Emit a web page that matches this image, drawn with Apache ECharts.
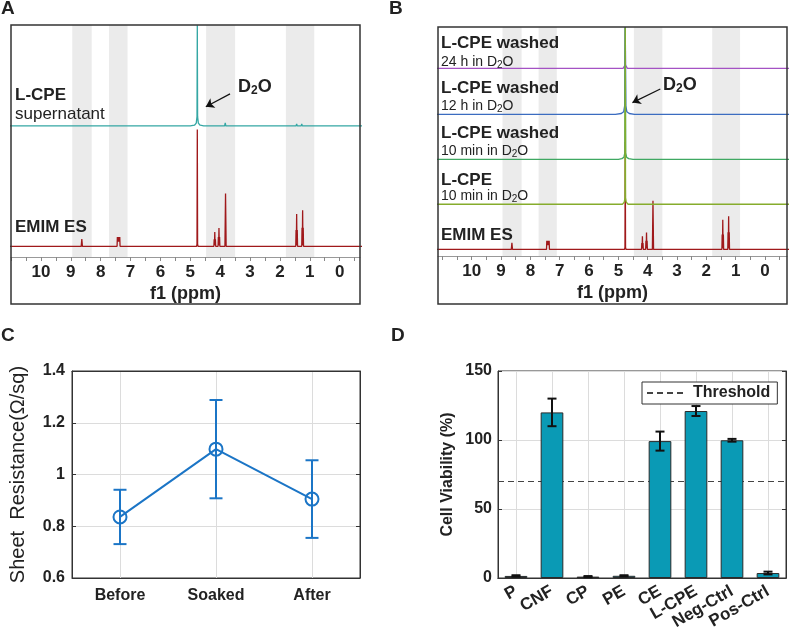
<!DOCTYPE html>
<html>
<head>
<meta charset="utf-8">
<script src="https://cdn.jsdelivr.net/npm/echarts@6/dist/echarts.min.js"></script>
<style>
html, body { margin: 0; padding: 0; background: #fff; }
#main { width: 791px; height: 635px; }
</style>
</head>
<body>
<div id="main"></div>
<script>
// ---------- NMR panels (A, B) ----------
var ppmLabels = [0, 1, 2, 3, 4, 5, 6, 7, 8, 9, 10];
var ppmTicks = [-0.5, 0, 0.5, 1, 1.5, 2, 2.5, 3, 3.5, 4, 4.5, 5, 5.5, 6, 6.5, 7, 7.5, 8, 8.5, 9, 9.5, 10, 10.5, 11];
var grayBands = [[8.95, 8.3], [7.72, 7.1], [4.47, 3.5], [1.8, 0.85]];

// [ppm, intensity above own baseline]
var emimSpec = [
  [11.3, 0], [8.65, 0], [8.63, 3.1], [8.61, 0],
  [7.45, 0], [7.44, 4.0], [7.42, 2], [7.40, 4.0], [7.38, 2], [7.36, 4.0], [7.35, 0],
  [4.79, 0], [4.775, 1], [4.765, 50.4], [4.755, 1], [4.74, 0],
  [4.21, 0], [4.20, 3], [4.19, 0.5], [4.18, 6.2], [4.17, 0.5], [4.16, 3], [4.15, 0],
  [4.07, 0], [4.06, 4], [4.05, 0.5], [4.04, 7.9], [4.03, 0.5], [4.02, 4], [4.01, 0],
  [3.84, 0], [3.82, 22.8], [3.80, 0],
  [1.47, 0], [1.46, 7], [1.45, 0.5], [1.44, 13.9], [1.43, 0.5], [1.42, 7], [1.41, 0],
  [1.27, 0], [1.26, 8], [1.25, 0.5], [1.24, 15.6], [1.23, 0.5], [1.22, 8], [1.21, 0],
  [-1, 0]
];
var supernatantSpec = [
  [11.3, 0], [5.0, 0], [4.86, 0.3], [4.80, 1.2], [4.775, 4], [4.765, 43.4], [4.755, 4], [4.73, 1.2], [4.67, 0.3], [4.55, 0],
  [4.12, 0], [4.10, 0.5], [4.08, 0],
  [3.85, 0], [3.83, 1.3], [3.81, 0],
  [1.46, 0], [1.44, 0.9], [1.42, 0],
  [1.29, 0], [1.27, 0.9], [1.25, 0],
  [-1, 0]
];
var cpe10Spec = [
  [11.3, 0], [4.86, 0], [4.80, 1], [4.775, 3], [4.765, 83], [4.755, 3], [4.73, 1], [4.67, 0],
  [4.19, 0], [4.17, 0.4], [4.15, 0], [4.05, 0], [4.03, 0.4], [4.01, 0],
  [1.45, 0], [1.43, 0.9], [1.41, 0], [1.25, 0], [1.23, 0.9], [1.21, 0],
  [-1, 0]
];
var washed10Spec = [
  [11.3, 0], [5.0, 0], [4.88, 0.3], [4.81, 1], [4.78, 3], [4.765, 62], [4.75, 3], [4.72, 1], [4.65, 0.3], [4.5, 0],
  [-1, 0]
];
var washed12Spec = [
  [11.3, 0], [5.1, 0], [4.9, 0.4], [4.82, 1.2], [4.785, 4], [4.765, 40.9], [4.745, 4], [4.71, 1.2], [4.63, 0.4], [4.45, 0],
  [-1, 0]
];
var washed24Spec = [
  [11.3, 0], [4.84, 0], [4.79, 0.6], [4.772, 1.5], [4.765, 19.3], [4.758, 1.5], [4.74, 0.6], [4.69, 0],
  [-1, 0]
];
var baseA = { supernatant: 56.5, emim: 4.6 };
var baseB = { emim: 3.1, cpe10: 24.3, washed10: 45.4, washed12: 66.5, washed24: 88.1 };

// ---------- panel C ----------
var stages = ['Before', 'Soaked', 'After'];
var sheetRes = [0.836, 1.098, 0.905];
var sheetErr = [0.105, 0.19, 0.15];

// ---------- panel D ----------
var samples = ['P', 'CNF', 'CP', 'PE', 'CE', 'L-CPE', 'Neg-Ctrl', 'Pos-Ctrl'];
var viability = [1.5, 120, 1.0, 1.6, 99.2, 121, 99.8, 3.6];
var viabilityErr = [0.5, 10, 0.4, 0.4, 6.9, 3.6, 1.0, 1.0];
var threshold = 70;

var FONT = '"Liberation Sans", Arial, Helvetica, sans-serif';

function shift(spec, b) {
  return spec.map(function (p) { return [p[0], p[1] + b]; });
}

function specSeries(grid, name, spec, base, color, z) {
  return {
    name: name, type: 'line', xAxisIndex: grid, yAxisIndex: grid,
    data: shift(spec, base), showSymbol: false, symbol: 'none',
    lineStyle: { color: color, width: 1.3 }, clip: true, z: z, silent: true
  };
}

function bandSeries(grid) {
  return {
    type: 'line', xAxisIndex: grid, yAxisIndex: grid, data: [], z: 1, silent: true,
    markArea: {
      silent: true, z: 1, itemStyle: { color: '#ebebeb' },
      data: grayBands.map(function (b) { return [{ xAxis: b[0] }, { xAxis: b[1] }]; })
    }
  };
}

function arrowSeries(grid, from, to) {
  return {
    type: 'line', xAxisIndex: grid, yAxisIndex: grid, data: [], z: 10, silent: true,
    markLine: {
      silent: true, symbol: ['none', 'arrow'], symbolSize: 8, z: 10,
      lineStyle: { color: '#111', width: 1.2, type: 'solid' },
      label: { show: false },
      data: [[{ coord: from }, { coord: to }]]
    }
  };
}

// error bar drawn as filled rects (stem + two caps)
function errRender(capHalf, color, width) {
  return function (params, api) {
    var i = api.value(0);
    var lo = api.coord([i, api.value(1)]);
    var hi = api.coord([i, api.value(2)]);
    var h = width / 2;
    function box(x, y, w, ht) {
      return { type: 'rect', shape: { x: x, y: y, width: w, height: ht }, style: { fill: color, stroke: null } };
    }
    return {
      type: 'group',
      children: [
        box(lo[0] - h, hi[1], width, lo[1] - hi[1]),
        box(lo[0] - capHalf, lo[1] - h, capHalf * 2, width),
        box(hi[0] - capHalf, hi[1] - h, capHalf * 2, width)
      ]
    };
  };
}

function vGridSeries(grid, cats) {
  return {
    type: 'line', xAxisIndex: grid, yAxisIndex: grid, data: [], z: 0, silent: true,
    markLine: {
      silent: true, symbol: 'none', z: 0, label: { show: false },
      lineStyle: { color: '#dcdcdc', width: 1, type: 'solid' },
      data: cats.map(function (c) { return { xAxis: c }; })
    }
  };
}

function nmrX(grid, min, max) {
  return {
    gridIndex: grid, type: 'value', inverse: true, min: min, max: max,
    axisLine: { show: true, onZero: false, lineStyle: { color: '#999', width: 1 } },
    axisTick: { show: true, customValues: ppmTicks, length: 4, lineStyle: { color: '#888' } },
    axisLabel: { customValues: ppmLabels, fontFamily: FONT, fontWeight: 'bold', fontSize: 17, color: '#222', margin: 7 },
    splitLine: { show: false },
    name: 'f1 (ppm)', nameLocation: 'middle', nameGap: 28,
    nameTextStyle: { fontFamily: FONT, fontWeight: 'bold', fontSize: 18, color: '#222' }
  };
}

var tickLbl = { fontFamily: FONT, fontWeight: 'bold', fontSize: 16, color: '#222' };

function txt(x, y, text, size, weight, rich) {
  var st = { text: text, x: x, y: y, fill: '#222', fontFamily: FONT, fontSize: size, fontWeight: weight, verticalAlign: 'middle' };
  if (rich) st.rich = rich;
  return { type: 'text', style: st, z: 50 };
}
var subRich = { s: { fontSize: 10, fontFamily: FONT, fill: '#222', padding: [7, 0, 0, 0] } };
var d2oRich = {
  a: { fontSize: 18, fontWeight: 'bold', fontFamily: FONT, fill: '#222' },
  s: { fontSize: 12, fontWeight: 'bold', fontFamily: FONT, fill: '#222', padding: [8, 0, 0, 0] }
};

var chart = echarts.init(document.getElementById('main'));
var option = {
  animation: false,
  textStyle: { fontFamily: FONT },
  grid: [
    { left: 11, top: 25, width: 349, height: 232 },
    { left: 438, top: 27, width: 349, height: 229 },
    { left: 72, top: 371, width: 288, height: 207, show: true, borderColor: '#333', borderWidth: 1 },
    { left: 498, top: 371, width: 288, height: 207, show: true, borderColor: '#333', borderWidth: 1 }
  ],
  xAxis: [
    nmrX(0, -0.68, 11.0),
    nmrX(1, -0.75, 11.15),
    {
      gridIndex: 2, type: 'category', data: stages, boundaryGap: true,
      axisLine: { lineStyle: { color: '#333' } },
      axisTick: { inside: true, alignWithLabel: true, length: 4, lineStyle: { color: '#333' } },
      axisLabel: Object.assign({ margin: 10 }, tickLbl), splitLine: { show: false }
    },
    {
      gridIndex: 3, type: 'category', data: samples, boundaryGap: true,
      axisLine: { lineStyle: { color: '#333' } },
      axisTick: { inside: true, alignWithLabel: true, length: 4, lineStyle: { color: '#333' } },
      axisLabel: Object.assign({}, tickLbl, { margin: 12, rotate: 30, interval: 0, fontSize: 17 }), splitLine: { show: false }
    },
    {
      gridIndex: 2, type: 'category', data: stages, position: 'top',
      axisLine: { lineStyle: { color: '#333' } }, axisLabel: { show: false },
      axisTick: { inside: true, alignWithLabel: true, length: 4, lineStyle: { color: '#333' } }
    },
    {
      gridIndex: 3, type: 'category', data: samples, position: 'top',
      axisLine: { lineStyle: { color: '#333' } }, axisLabel: { show: false },
      axisTick: { inside: true, alignWithLabel: true, length: 4, lineStyle: { color: '#333' } }
    }
  ],
  yAxis: [
    { gridIndex: 0, type: 'value', min: 0, max: 100, show: false },
    { gridIndex: 1, type: 'value', min: 0, max: 107.5, show: false },
    {
      gridIndex: 2, type: 'value', min: 0.6, max: 1.4, interval: 0.2,
      axisLine: { show: true, lineStyle: { color: '#333' } },
      axisTick: { show: true, inside: true, length: 4, lineStyle: { color: '#333' } },
      axisLabel: Object.assign({ margin: 7 }, tickLbl),
      splitLine: { lineStyle: { color: '#dcdcdc' } },
      name: 'Sheet  Resistance(\u03A9/sq)', nameLocation: 'middle', nameGap: 44,
      nameTextStyle: { fontFamily: FONT, fontSize: 20, color: '#222' }
    },
    {
      gridIndex: 3, type: 'value', min: 0, max: 150, interval: 50,
      axisLine: { show: true, lineStyle: { color: '#333' } },
      axisTick: { show: true, inside: true, length: 4, lineStyle: { color: '#333' } },
      axisLabel: Object.assign({ margin: 6 }, tickLbl),
      splitLine: { lineStyle: { color: '#dcdcdc' } },
      name: 'Cell Viability (%)', nameLocation: 'middle', nameGap: 42,
      nameTextStyle: { fontFamily: FONT, fontSize: 16, fontWeight: 'bold', color: '#222' }
    },
    {
      gridIndex: 2, type: 'value', min: 0.6, max: 1.4, interval: 0.2, position: 'right',
      axisLine: { show: true, lineStyle: { color: '#333' } }, axisLabel: { show: false }, splitLine: { show: false },
      axisTick: { show: true, inside: true, length: 4, lineStyle: { color: '#333' } }
    },
    {
      gridIndex: 3, type: 'value', min: 0, max: 150, interval: 50, position: 'right',
      axisLine: { show: true, lineStyle: { color: '#333' } }, axisLabel: { show: false }, splitLine: { show: false },
      axisTick: { show: true, inside: true, length: 4, lineStyle: { color: '#333' } }
    }
  ],
  legend: {
    data: [{ name: 'Threshold', icon: 'path://M0,0h6v2h-6zM10,0h6v2h-6zM20,0h6v2h-6zM30,0h6v2h-6z' }],
    left: 642, top: 382, padding: [3, 7, 3, 5], itemWidth: 42, itemHeight: 2,
    borderColor: '#333', borderWidth: 1, backgroundColor: '#fff',
    textStyle: { fontFamily: FONT, fontWeight: 'bold', fontSize: 16, color: '#222', padding: [0, 0, 0, 2] }
  },
  series: [
    // A
    bandSeries(0),
    specSeries(0, 'EMIM ES A', emimSpec, baseA.emim, '#a0191b', 3),
    specSeries(0, 'L-CPE supernatant', supernatantSpec, baseA.supernatant, '#35a7a4', 4),
    arrowSeries(0, [3.67, 70.3], [4.48, 64.8]),
    // B
    bandSeries(1),
    specSeries(1, 'EMIM ES B', emimSpec, baseB.emim, '#a0191b', 3),
    specSeries(1, 'washed 24 h', washed24Spec, baseB.washed24, '#a452c4', 4),
    specSeries(1, 'washed 12 h', washed12Spec, baseB.washed12, '#3b6cc0', 5),
    specSeries(1, 'washed 10 min', washed10Spec, baseB.washed10, '#3fa862', 6),
    specSeries(1, 'L-CPE 10 min', cpe10Spec, baseB.cpe10, '#86ac2c', 7),
    arrowSeries(1, [3.57, 78.4], [4.52, 72.0]),
    // C
    vGridSeries(2, stages),
    {
      type: 'custom', xAxisIndex: 2, yAxisIndex: 2, z: 3, silent: true,
      renderItem: errRender(6.5, '#1b75c6', 2),
      encode: { x: 0, y: [1, 2] },
      data: stages.map(function (s, i) { return [i, sheetRes[i] - sheetErr[i], sheetRes[i] + sheetErr[i]]; })
    },
    {
      type: 'line', xAxisIndex: 2, yAxisIndex: 2, data: sheetRes, z: 4,
      symbol: 'circle', symbolSize: 13,
      lineStyle: { color: '#1b75c6', width: 2 },
      itemStyle: { color: 'rgba(0,0,0,0)', borderColor: '#1b75c6', borderWidth: 2 }
    },
    // D
    vGridSeries(3, samples),
    {
      name: 'Threshold', type: 'line', xAxisIndex: 3, yAxisIndex: 3, data: [], z: 2,
      symbol: 'none', lineStyle: { color: '#444', width: 1.2, type: [6, 4] },
      itemStyle: { color: '#444' },
      markLine: {
        silent: true, symbol: 'none', z: 2, label: { show: false },
        lineStyle: { color: '#444', width: 1.2, type: [6, 4] },
        data: [{ yAxis: threshold }]
      }
    },
    {
      type: 'bar', xAxisIndex: 3, yAxisIndex: 3, data: viability, barWidth: '63%', z: 3,
      itemStyle: { color: '#0a9ab5', borderColor: '#2b2b2b', borderWidth: 1 }
    },
    {
      type: 'custom', xAxisIndex: 3, yAxisIndex: 3, z: 4, silent: true,
      renderItem: errRender(4.5, '#111', 2),
      encode: { x: 0, y: [1, 2] },
      data: samples.map(function (s, i) { return [i, viability[i] - viabilityErr[i], viability[i] + viabilityErr[i]]; })
    }
  ],
  graphic: [
    { type: 'rect', shape: { x: 11, y: 25, width: 349, height: 279 }, style: { fill: 'none', stroke: '#333', lineWidth: 1.5 }, z: 60 },
    { type: 'rect', shape: { x: 438, y: 27, width: 349, height: 277 }, style: { fill: 'none', stroke: '#333', lineWidth: 1.5 }, z: 60 },
    txt(1, 9, 'A', 19, 'bold'),
    txt(389, 9, 'B', 19, 'bold'),
    txt(1, 336, 'C', 19, 'bold'),
    txt(391, 336, 'D', 19, 'bold'),
    txt(15, 95, 'L-CPE', 17, 'bold'),
    txt(15, 114, 'supernatant', 17, 'normal'),
    txt(15, 227, 'EMIM ES', 17, 'bold'),
    txt(238, 87, '{a|D}{s|2}{a|O}', 18, 'bold', d2oRich),
    txt(441, 43, 'L-CPE washed', 17, 'bold'),
    txt(441, 62, '24 h in D{s|2}O', 14, 'normal', subRich),
    txt(441, 88, 'L-CPE washed', 17, 'bold'),
    txt(441, 106, '12 h in D{s|2}O', 14, 'normal', subRich),
    txt(441, 133, 'L-CPE washed', 17, 'bold'),
    txt(441, 151, '10 min in D{s|2}O', 14, 'normal', subRich),
    txt(441, 180, 'L-CPE', 17, 'bold'),
    txt(441, 196, '10 min in D{s|2}O', 14, 'normal', subRich),
    txt(441, 235, 'EMIM ES', 17, 'bold'),
    txt(663, 85, '{a|D}{s|2}{a|O}', 18, 'bold', d2oRich)
  ]
};
chart.setOption(option);
</script>
</body>
</html>
